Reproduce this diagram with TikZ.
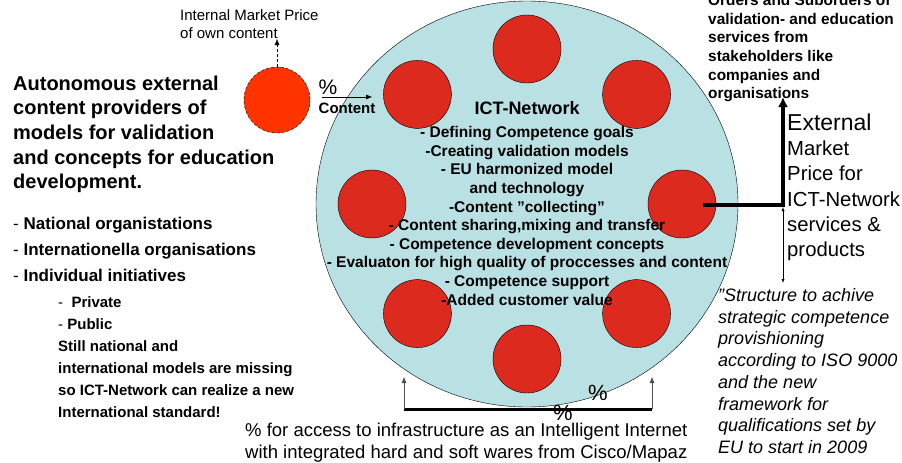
\documentclass[tikz,border=0pt]{standalone}
\usepackage{fontspec}
\setmainfont{Liberation Sans}
\usetikzlibrary{positioning,shapes.geometric,arrows.meta}
\definecolor{netblue}{HTML}{B9E0E3}
\definecolor{memred}{HTML}{DC2A1F}
\definecolor{provorange}{HTML}{FF3300}

\begin{document}
\begin{tikzpicture}[
x=1pt,y=-1pt,
member/.style={
  circle,
  draw,
  fill=memred,
  minimum size=68pt,
  inner sep=0pt
  },
provider/.style={
  circle,
  draw,
  densely dashed,
  fill=provorange,
  minimum size=66pt,
  inner sep=0pt
  },
txt/.style={
  inner sep=0pt,
  anchor=north west,
  align=left
  },
bigtip/.style={-{Latex[length=10pt,width=10pt]}},
smalltip/.style={-{Latex[length=6pt,width=5pt]}},
>=latex
]
\useasboundingbox (0,0) rectangle (902,463);

% the network and its members
\node[draw, ellipse, fill=netblue, minimum width=422pt, minimum height=406pt,
  inner sep=0pt] (net) at (527,204) {};
\foreach \ang [count=\mi] in {90,45,0,-45,-90,-135,180,135}
  \node[member] (m\mi) at ([shift={(\ang:155)}]net.center) {};

\node[font=\fontsize{18}{21}\selectfont\bfseries] (title) at (527,108) {ICT-Network};
\node[inner sep=0pt, anchor=north, align=center,
  font=\fontsize{15.5}{18.6}\selectfont\bfseries] (goals) at (527,126.3)
  {- Defining Competence goals\\
   -Creating validation models\\
   - EU harmonized model\\
   and technology\\
   -Content ”collecting”\\
   - Content sharing,mixing and transfer\\
   - Competence development concepts\\
   - Evaluaton for high quality of proccesses and content\\
   - Competence support\\
   -Added customer value};

% external content provider
\node[provider] (prov) at (277,100) {};
\node[txt, font=\fontsize{15}{18}\selectfont] (intprice) at (180,9.5)
  {Internal Market Price\\of own content};
\coordinate (pricetip) at (277,39);
\draw[smalltip, densely dashed] (prov.north) -- (pricetip);

\node[font=\fontsize{21}{24}\selectfont] (pct) at (328,87) {\%};
\node[font=\fontsize{15}{18}\selectfont\bfseries] (content) at (347,108) {Content};
\coordinate (cstart) at (322,97);
\coordinate (cend) at (372,97);
\draw[smalltip] (cstart) -- (cend);

% left texts
\node[txt, font=\fontsize{20}{24.6}\selectfont\bfseries] (providers) at (13,75.6)
  {Autonomous external\\
   content providers of\\
   models for validation\\
   and concepts for education\\
   development.};
\node[txt, font=\fontsize{17}{26}\selectfont\bfseries] (orgs) at (13,216.7)
  {{\mdseries -} National organistations\\
   {\mdseries -} Internationella organisations\\
   {\mdseries -} Individual initiatives};
\node[txt, font=\fontsize{15}{22}\selectfont\bfseries] (kinds) at (58,296.5)
  {{\mdseries -}\ \ Private\\
   {\mdseries -} Public\\
   Still national and\\
   international models are missing\\
   so ICT-Network can realize a new\\
   International standard!};

% right side
\node[txt, font=\fontsize{15.4}{18.7}\selectfont\bfseries] (orders) at (708,-6)
  {Orders and Suborders of\\
   validation- and education\\
   services from\\
   stakeholders like\\
   companies and\\
   organisations};
\node[txt, font=\fontsize{20.3}{25.3}\selectfont] (extprice) at (787,113.5)
  {{\fontsize{23}{25.3}\selectfont External}\\
   Market\\
   Price for\\
   ICT-Network\\
   services \&\\
   products};
\coordinate (rjoin) at (703,205);
\coordinate (rcorner) at (783,205);
\coordinate (rtop) at (783,97);
\draw[line width=4pt, bigtip] (rjoin) -- (rcorner) -- (rtop);
\coordinate (dtop) at (783,207);
\coordinate (dbot) at (783,283);
\draw[<->] (dtop) -- (dbot);

\node[txt, font=\fontsize{18}{21.7}\selectfont\itshape] (iso) at (718,288.3)
  {”Structure to achive\\
   strategic competence\\
   provishioning\\
   according to ISO 9000\\
   and the new\\
   framework for\\
   qualifications set by\\
   EU to start in 2009};

% bottom
\coordinate (bl) at (404,409);
\coordinate (br) at (652,409);
\coordinate (blt) at (404,377);
\coordinate (brt) at (652,377);
\draw[line width=3pt] (bl) -- (br);
\draw[smalltip, black!70] (bl) -- (blt);
\draw[smalltip, black!70] (br) -- (brt);
\node[font=\fontsize{22}{24}\selectfont] (pcta) at (598,393) {\%};
\node[font=\fontsize{22}{24}\selectfont] (pctb) at (563,413) {\%};
\node[txt, font=\fontsize{18.5}{22}\selectfont] (access) at (245,423)
  {\% for access to infrastructure as an Intelligent Internet\\
   with integrated hard and soft wares from Cisco/Mapaz};

\end{tikzpicture}
\end{document}
